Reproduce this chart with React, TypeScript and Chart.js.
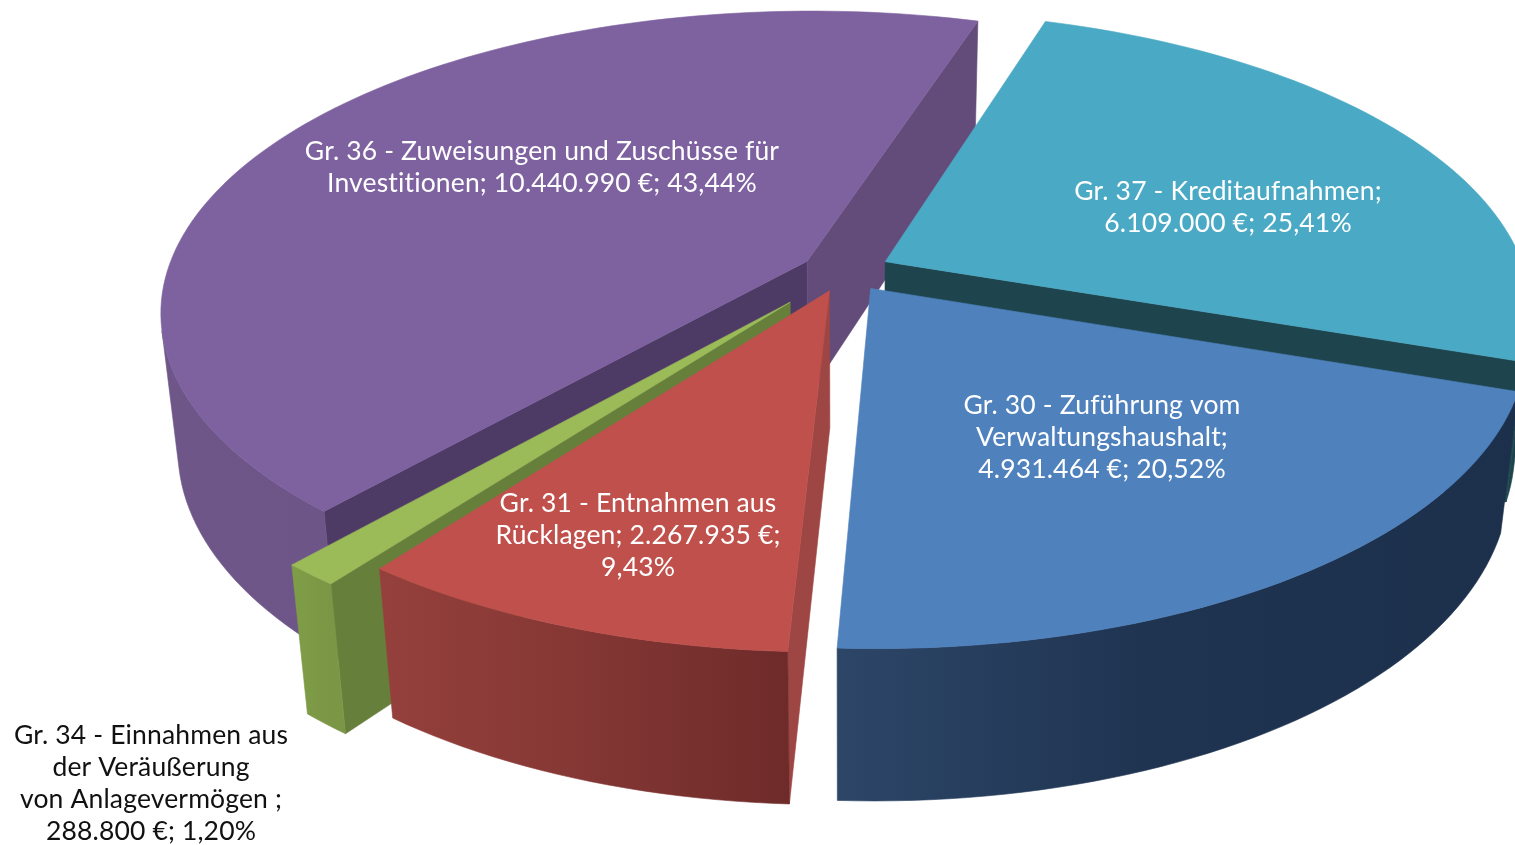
import React, { useEffect, useRef } from "react";
import { Chart, registerables } from "chart.js";

Chart.register(...registerables);

// ---- data ----
const categories = [
  "Gr. 30 - Zuführung vom Verwaltungshaushalt",
  "Gr. 31 - Entnahmen aus Rücklagen",
  "Gr. 34 - Einnahmen aus der Veräußerung von Anlagevermögen",
  "Gr. 36 - Zuweisungen und Zuschüsse für Investitionen",
  "Gr. 37 - Kreditaufnahmen",
];
const amounts = [4931464, 2267935, 288800, 10440990, 6109000];
const labelLines = [
  ["Gr. 30 - Zuführung vom", "Verwaltungshaushalt;", "4.931.464 €; 20,52%"],
  ["Gr. 31 - Entnahmen aus", "Rücklagen; 2.267.935 €;", "9,43%"],
  ["Gr. 34 - Einnahmen aus", "der Veräußerung", "von Anlagevermögen ;", "288.800 €; 1,20%"],
  ["Gr. 36 - Zuweisungen und Zuschüsse für", "Investitionen; 10.440.990 €; 43,44%"],
  ["Gr. 37 - Kreditaufnahmen;", "6.109.000 €; 25,41%"],
];

// ---- styles ----
const topColors = ["#4f81bd", "#bf504c", "#9bbb59", "#7e62a0", "#4aa9c4"];
const startWallColors = ["#1c304c", "#9e4643", "#667f3a", "#4e3b65", "#1e444d"];
const endWallColors = ["#1c304c", "#6e2b2a", "#667f3a", "#644c7a", "#1e444d"];
const outerWallLeft = ["#2d4668", "#95403c", "#7f9c47", "#6e5689", "#1e444d"];
const outerWallMiddle = ["#1f3451", "#863835", "#7d9a46", "#6c5487", "#1e444d"];
const outerWallRight = ["#1c304c", "#6e2b2a", "#7b9645", "#6a5285", "#1e444d"];
const explode = [28, 28, 53, 27, 28];
const paintOrder = [3, 4, 2, 1, 0];
const labelAnchors = [
  [1102, 405],
  [638, 503],
  [151, 735],
  [542, 151],
  [1228, 191],
];
const labelColors = ["#ffffff", "#ffffff", "#111111", "#ffffff", "#ffffff"];

// ---- camera ----
const CX = 845;
const CY = 271;
const RX = 640;
const SQUASH = 0.46;
const PERSP = 0.165;
const DEPTH = 139;
const SINK = 0.025;

type Pt = [number, number];

const project = (u: number, v: number, z: number): Pt => {
  const w = 1 - PERSP * v + SINK * z;
  return [CX + (RX * u) / w, CY + (RX * SQUASH * v + DEPTH * z) / w];
};

const area = (pts: Pt[]) =>
  pts.reduce((sum, p, i) => {
    const q = pts[(i + 1) % pts.length];
    return sum + p[0] * q[1] - q[0] * p[1];
  }, 0);

const fillPoly = (ctx: CanvasRenderingContext2D, pts: Pt[], fill: any) => {
  ctx.beginPath();
  pts.forEach((p, i) => (i ? ctx.lineTo(p[0], p[1]) : ctx.moveTo(p[0], p[1])));
  ctx.closePath();
  ctx.fillStyle = fill;
  ctx.strokeStyle = fill;
  ctx.lineWidth = 0.6;
  ctx.fill();
  ctx.stroke();
};

const pie3d = {
  id: "pie3d",
  beforeDatasetsDraw(chart: any) {
    const ctx: CanvasRenderingContext2D = chart.ctx;
    const arcs = chart.getDatasetMeta(0).data;
    ctx.save();
    paintOrder.forEach((i) => {
      const el = arcs[i];
      const { startAngle, endAngle, outerRadius } = el;
      const off = el.options.offset / outerRadius;
      const mid = (startAngle + endAngle) / 2;
      const ou = off * Math.cos(mid);
      const ov = off * Math.sin(mid);
      const at = (rho: number, a: number, z: number) =>
        project(ou + rho * Math.cos(a), ov + rho * Math.sin(a), z);
      const steps = Math.max(4, Math.ceil((endAngle - startAngle) * 40));
      const rim: number[] = [];
      for (let s = 0; s <= steps; s++) rim.push(startAngle + ((endAngle - startAngle) * s) / steps);

      const startWall = [at(0, startAngle, 0), at(1, startAngle, 0), at(1, startAngle, 1), at(0, startAngle, 1)];
      const endWall = [at(0, endAngle, 0), at(1, endAngle, 0), at(1, endAngle, 1), at(0, endAngle, 1)];
      if (area(startWall) < 0) fillPoly(ctx, startWall, startWallColors[i]);
      if (area(endWall) > 0) fillPoly(ctx, endWall, endWallColors[i]);

      const rimTop = rim.map((a) => at(1, a, 0));
      const rimBottom = rim.map((a) => at(1, a, 1));
      const xs = rimTop.map((p) => p[0]);
      const grad = ctx.createLinearGradient(Math.min(...xs), 0, Math.max(...xs), 0);
      grad.addColorStop(0, outerWallLeft[i]);
      grad.addColorStop(0.45, outerWallMiddle[i]);
      grad.addColorStop(1, outerWallRight[i]);
      // one polygon per unbroken run of camera-facing rim segments
      let runTop: Pt[] = [];
      let runBottom: Pt[] = [];
      const flush = () => {
        if (runTop.length) fillPoly(ctx, [...runTop, ...runBottom.reverse()], grad);
        runTop = [];
        runBottom = [];
      };
      for (let s = 0; s < steps; s++) {
        const quad: Pt[] = [rimTop[s], rimTop[s + 1], rimBottom[s + 1], rimBottom[s]];
        if (area(quad) < 0) {
          if (!runTop.length) {
            runTop.push(rimTop[s]);
            runBottom.push(rimBottom[s]);
          }
          runTop.push(rimTop[s + 1]);
          runBottom.push(rimBottom[s + 1]);
        } else flush();
      }
      flush();

      fillPoly(ctx, [at(0, 0, 0), ...rimTop], topColors[i]);
    });
    ctx.restore();
    return false;
  },
  afterDraw(chart: any) {
    const ctx: any = chart.ctx;
    ctx.save();
    ctx.font = "26.5px Lato";
    ctx.letterSpacing = "0.15px";
    ctx.textAlign = "center";
    ctx.textBaseline = "middle";
    labelLines.forEach((lines, i) => {
      ctx.fillStyle = labelColors[i];
      lines.forEach((line, j) => ctx.fillText(line, labelAnchors[i][0], labelAnchors[i][1] + j * 32));
    });
    ctx.restore();
  },
};

export default function App() {
  const ref = useRef<HTMLCanvasElement>(null);
  useEffect(() => {
    const chart = new Chart(ref.current as HTMLCanvasElement, {
      type: "pie",
      data: {
        labels: categories,
        datasets: [{ data: amounts, backgroundColor: topColors, offset: explode, borderWidth: 0 }],
      },
      options: {
        responsive: false,
        animation: false,
        rotation: 109,
        plugins: { legend: { display: false }, tooltip: { enabled: false } },
      },
      plugins: [pie3d],
    } as any);
    return () => chart.destroy();
  }, []);
  return (
    <div style={{ position: "absolute", left: 0, top: 0, width: 1515, height: 845, overflow: "hidden" }}>
      <canvas ref={ref} width={1515} height={845} style={{ display: "block" }} />
    </div>
  );
}
